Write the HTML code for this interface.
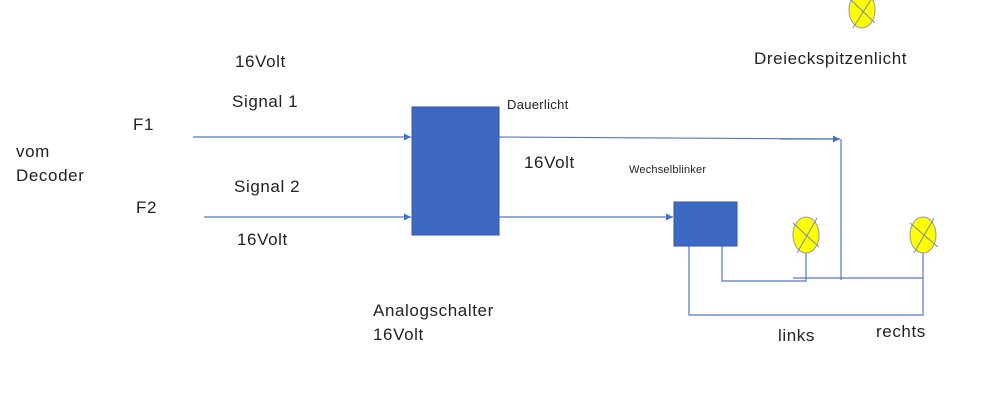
<!DOCTYPE html>
<html><head><style>
body{margin:0;background:#fff;}
svg{display:block;font-family:"Liberation Sans","DejaVu Sans",sans-serif;}
text{fill:#222;font-size:17px;letter-spacing:0.6px;}
</style></head><body>
<svg width="999" height="403" viewBox="0 0 999 403" xmlns="http://www.w3.org/2000/svg">
<defs><marker id="a" markerWidth="8" markerHeight="8" refX="7" refY="4" orient="auto" markerUnits="userSpaceOnUse"><path d="M0,0.5 L7,4 L0,7.5Z" fill="#4a6fc0"/></marker></defs>
<g stroke="#5577c4" stroke-width="1.2" fill="none">
<line x1="193" y1="137" x2="411" y2="137" marker-end="url(#a)"/>
<line x1="204" y1="217" x2="411" y2="217" marker-end="url(#a)"/>
<polyline points="499,137 840,139"/>
<line x1="780" y1="139" x2="840" y2="139" marker-end="url(#a)"/>
<line x1="841" y1="139" x2="841" y2="280"/>
<line x1="499" y1="217" x2="673" y2="217" marker-end="url(#a)"/>
<polyline points="722,246 722,281 806,281 806,252"/>
<line x1="793" y1="278" x2="923" y2="278"/>
<polyline points="689,246 689,315 923,315 923,252"/>
</g>
<rect x="412" y="107" width="87" height="128" fill="#3d68c4" stroke="#2f56a8"/>
<rect x="674" y="202" width="63" height="44" fill="#3d68c4" stroke="#2f56a8"/>
<g stroke="#7a8cb0" stroke-width="1">
<ellipse cx="862" cy="10" rx="13" ry="18" fill="#ffff00" stroke="#999"/>
<line x1="853" y1="28" x2="874" y2="-5"/><line x1="849" y1="-2" x2="875" y2="23"/>
<ellipse cx="806" cy="235" rx="13" ry="18" fill="#ffff00" stroke="#999"/>
<line x1="797" y1="253" x2="817" y2="218"/><line x1="793" y1="223" x2="819" y2="247"/>
<ellipse cx="923" cy="235" rx="13" ry="18" fill="#ffff00" stroke="#999"/>
<line x1="914" y1="253" x2="934" y2="218"/><line x1="910" y1="223" x2="938" y2="247"/>
</g>
<text x="235" y="67">16Volt</text>
<text x="232" y="107">Signal 1</text>
<text x="133" y="130">F1</text>
<text x="16" y="157">vom</text>
<text x="16" y="181">Decoder</text>
<text x="234" y="192">Signal 2</text>
<text x="136" y="213">F2</text>
<text x="237" y="245">16Volt</text>
<text x="507" y="109" style="font-size:13px;letter-spacing:0.3px">Dauerlicht</text>
<text x="524" y="168">16Volt</text>
<text x="629" y="173" style="font-size:11px;letter-spacing:0.2px">Wechselblinker</text>
<text x="373" y="316">Analogschalter</text>
<text x="373" y="340">16Volt</text>
<text x="754" y="64">Dreieckspitzenlicht</text>
<text x="778" y="341">links</text>
<text x="876" y="337">rechts</text>
</svg>
</body></html>
